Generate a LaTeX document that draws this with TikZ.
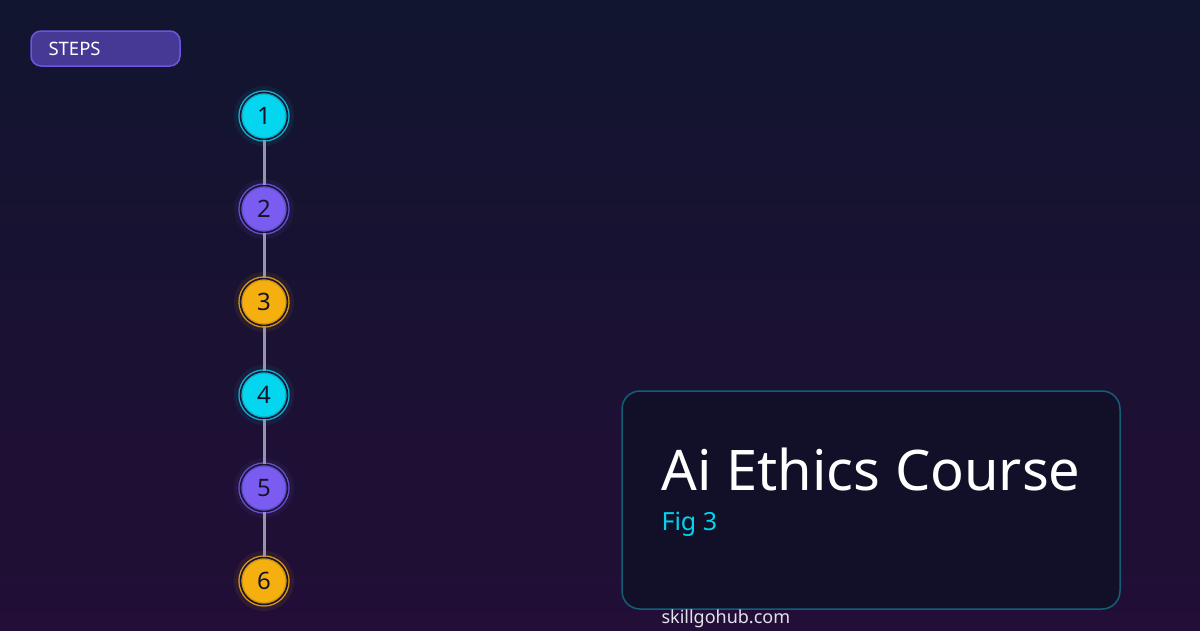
\documentclass[tikz,border=0pt]{standalone}
\usepackage{fontspec}
\setmainfont{Noto Sans}
\usetikzlibrary{positioning}

\definecolor{bgtop}{RGB}{17,21,47}
\definecolor{bgbot}{RGB}{34,14,54}
\definecolor{pillfill}{RGB}{70,57,150}
\definecolor{pillline}{RGB}{108,85,224}
\definecolor{cyanstep}{RGB}{4,214,240}
\definecolor{cyanring}{RGB}{14,178,204}
\definecolor{violetstep}{RGB}{123,92,240}
\definecolor{violetring}{RGB}{104,78,206}
\definecolor{amberstep}{RGB}{245,176,16}
\definecolor{amberring}{RGB}{214,150,16}
\definecolor{gapdark}{RGB}{24,22,52}
\definecolor{numdark}{RGB}{20,20,44}
\definecolor{linkgray}{RGB}{150,148,170}
\definecolor{cardfill}{RGB}{17,16,40}
\definecolor{cardline}{RGB}{19,95,120}
\definecolor{figcyan}{RGB}{0,212,238}
\definecolor{sitegray}{RGB}{226,226,238}

\begin{document}
\begin{tikzpicture}[
    x=1pt, y=-1pt,
    pill/.style={draw=pillline, fill=pillfill, line width=1.5pt, rounded corners=10pt,
        minimum width=149pt, minimum height=35pt, inner sep=0pt},
    stepdot/.style={circle, minimum size=47pt, inner sep=0pt, line width=1.4pt,
        double=gapdark, double distance=1.6pt, text=numdark, font=\fontsize{24}{28}\selectfont},
    link/.style={draw=linkgray, line width=3pt},
    card/.style={draw=cardline, fill=cardfill, line width=1.5pt, rounded corners=18pt,
        minimum width=498pt, minimum height=218pt, inner sep=0pt}
]

    % Background
    \shade[top color=bgtop, bottom color=bgbot] (0,0) rectangle (1200,630);
    \useasboundingbox (0,0) rectangle (1200,630);

    % Tag
    \node[pill] (tag) at (105.5,48.5) {};
    \node[anchor=west, text=white, font=\fontsize{18.5}{22}\selectfont] (tagtext) at (45,49) {STEPS};

    % Steps
    \foreach \n/\c in {1/cyan, 2/violet, 3/amber, 4/cyan, 5/violet, 6/amber} {
        \fill[\c step, opacity=0.07] (264,{116+93*(\n-1)}) circle (30pt);
        \node[stepdot, fill=\c step, draw=\c ring] (s\n) at (264,{116+93*(\n-1)}) {\n};
    }

    % Links
    \foreach \a/\b in {1/2, 2/3, 3/4, 4/5, 5/6}
        \draw[link] (s\a) -- (s\b);

    % Card
    \node[card] (card) at (871,500) {};
    \node[anchor=base west, text=white, font=\fontsize{56}{62}\selectfont] (title) at (658,490) {Ai Ethics Course};
    \node[anchor=base west, text=figcyan, font=\fontsize{25}{29}\selectfont] (fig) at (658,530) {Fig 3};
    \node[anchor=base west, text=sitegray, font=\fontsize{18}{22}\selectfont] (site) at (658,623) {skillgohub.com};

\end{tikzpicture}
\end{document}
